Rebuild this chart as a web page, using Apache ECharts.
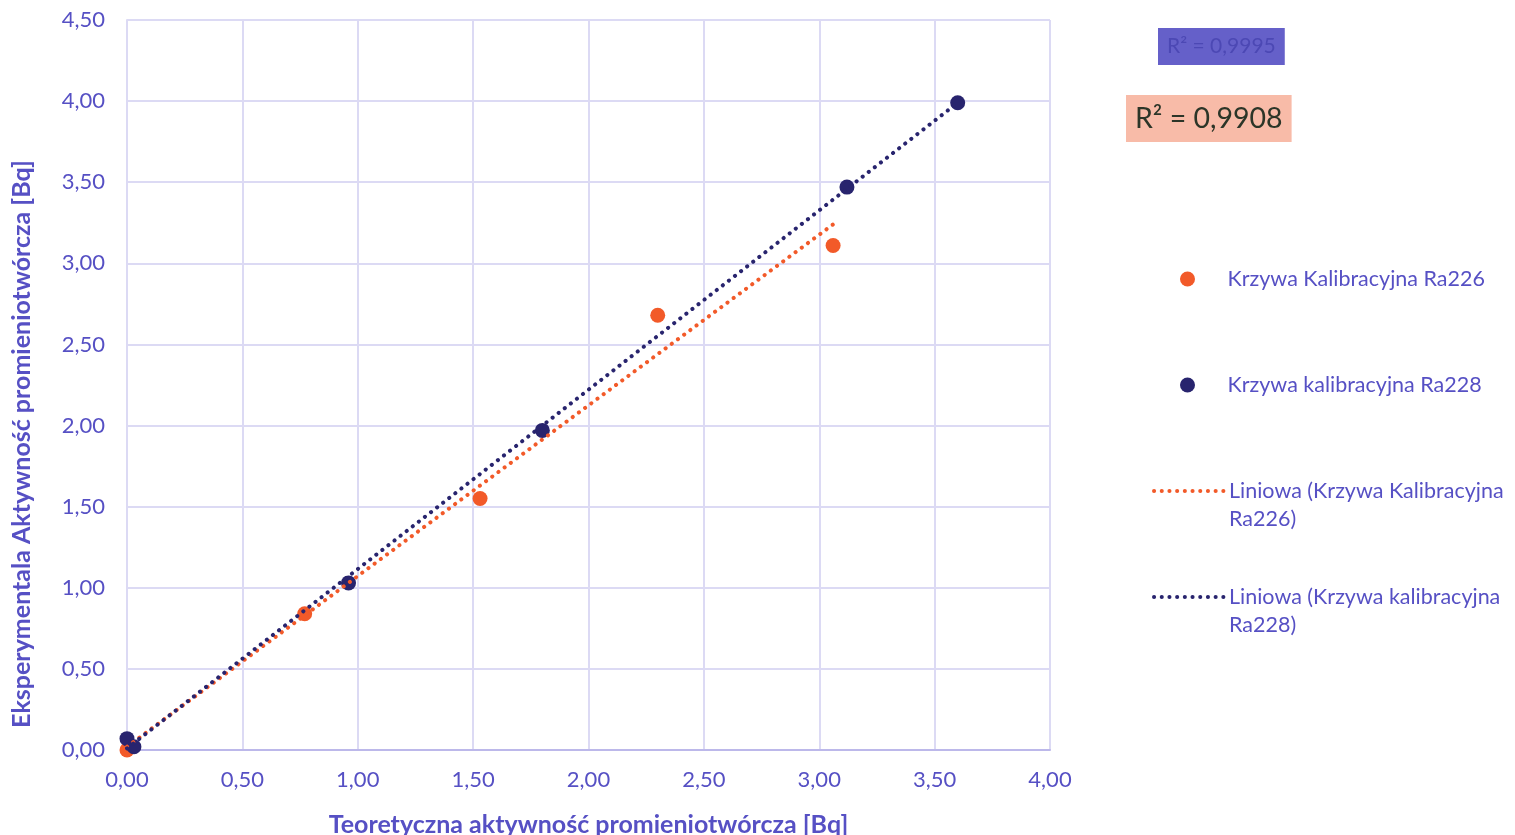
<!DOCTYPE html>
<html><head><meta charset="utf-8">
<script src="https://cdn.jsdelivr.net/npm/echarts@6/dist/echarts.min.js"></script>
<style>html,body{margin:0;padding:0;background:#fff}#c{width:1515px;height:835px}</style>
</head><body><div id="c"></div>
<script>
// Data
const ra226X = [0.00, 0.77, 1.53, 2.30, 3.06];
const ra226Y = [0.00, 0.84, 1.55, 2.68, 3.11];
const ra228X = [0.00, 0.03, 0.96, 1.80, 3.12, 3.60];
const ra228Y = [0.07, 0.02, 1.03, 1.97, 3.47, 3.99];
// Linear trendline endpoints (Excel "Liniowa")
const trend226X = [0.00, 3.06];
const trend226Y = [0.02, 3.24];
const trend228X = [0.00, 3.60];
const trend228Y = [0.01, 3.99];
const r2Labels = ['R² = 0,9995', 'R² = 0,9908'];
const seriesNames = ['Krzywa Kalibracyjna Ra226', 'Krzywa kalibracyjna Ra228',
  'Liniowa (Krzywa Kalibracyjna Ra226)', 'Liniowa (Krzywa kalibracyjna Ra228)'];
const xTitle = 'Teoretyczna aktywność promieniotwórcza [Bq]';
const yTitle = 'Eksperymentala Aktywność promieniotwórcza [Bq]';

const pair = (xs, ys) => xs.map((x, i) => [x, ys[i]]);
const FONT = 'Lato';
const TXT = '#5650c4';
const ORANGE = '#f25a29';
const NAVY = '#28246e';
const fmt = v => v.toFixed(2).replace('.', ',');

const chart = echarts.init(document.getElementById('c'), null, {renderer: 'canvas'});
const legendBase = {
  orient: 'vertical', itemHeight: 15, itemGap: 0, padding: 0,
  textStyle: {color: TXT, fontFamily: FONT, fontSize: 21.5, lineHeight: 28, padding: [0,0,0,0]},
  selectedMode: false
};
const dotLegend = {width: 4, type: [0.1, 7.6], cap: 'round'};
chart.setOption({
  animation: false,
  backgroundColor: '#fff',
  textStyle: {fontFamily: FONT},
  title: [
    {text: r2Labels[0], left: 1158, top: 28, backgroundColor: '#6560c9', padding: [8, 9, 8, 9],
     textStyle: {color: '#4c48b4', fontFamily: FONT, fontSize: 21, fontWeight: 'normal', lineHeight: 21}},
    {text: r2Labels[1], left: 1126, top: 95, backgroundColor: '#f8bba8', padding: [9, 9, 9, 9],
     textStyle: {color: '#2c3528', fontFamily: FONT, fontSize: 28.5, fontWeight: 'normal', lineHeight: 29}}
  ],
  legend: [
    Object.assign({}, legendBase, {left: 1180, top: 265, itemWidth: 70, data: [seriesNames[0]]}),
    Object.assign({}, legendBase, {left: 1180, top: 371, itemWidth: 70, data: [seriesNames[1]]}),
    Object.assign({}, legendBase, {left: 1152, top: 449, itemWidth: 70, data: [seriesNames[2]],
      itemStyle: {opacity: 0}, lineStyle: dotLegend,
      formatter: () => '\nLiniowa (Krzywa Kalibracyjna\nRa226)'}),
    Object.assign({}, legendBase, {left: 1152, top: 555, itemWidth: 70, data: [seriesNames[3]],
      itemStyle: {opacity: 0}, lineStyle: dotLegend,
      formatter: () => '\nLiniowa (Krzywa kalibracyjna\nRa228)'})
  ],
  grid: {left: 127, right: 465, top: 20, bottom: 85, containLabel: false, outerBoundsMode: 'none'},
  xAxis: {
    type: 'value', min: 0, max: 4, interval: 0.5,
    name: xTitle, nameLocation: 'middle', nameGap: 62,
    nameTextStyle: {color: TXT, fontFamily: FONT, fontSize: 25, fontWeight: 'bold'},
    axisLine: {show: true, lineStyle: {color: '#bcb8ea', width: 2}},
    axisTick: {show: false},
    axisLabel: {color: TXT, fontFamily: FONT, fontSize: 22, margin: 19, formatter: fmt},
    splitLine: {show: true, lineStyle: {color: '#dcdaf4', width: 2}}
  },
  yAxis: {
    type: 'value', min: 0, max: 4.5, interval: 0.5,
    name: yTitle, nameLocation: 'middle', nameGap: 93, nameRotate: 90,
    nameTextStyle: {color: TXT, fontFamily: FONT, fontSize: 25, fontWeight: 'bold', padding: [0, 118, 0, 0]},
    axisLine: {show: true, lineStyle: {color: '#dcdaf4', width: 2}},
    axisTick: {show: false},
    axisLabel: {color: TXT, fontFamily: FONT, fontSize: 22, margin: 22, formatter: fmt},
    splitLine: {show: true, lineStyle: {color: '#dcdaf4', width: 2}}
  },
  series: [
    {name: seriesNames[0], type: 'scatter', data: pair(ra226X, ra226Y), symbol: 'circle', symbolSize: 15,
     itemStyle: {color: ORANGE, opacity: 1}, z: 2},
    {name: seriesNames[1], type: 'scatter', data: pair(ra228X, ra228Y), symbol: 'circle', symbolSize: 15,
     itemStyle: {color: NAVY, opacity: 1}, z: 3},
    {name: seriesNames[2], type: 'line', data: pair(trend226X, trend226Y), showSymbol: false, symbol: 'none',
     lineStyle: {color: ORANGE, width: 4, type: [0.1, 7.6], cap: 'round'}, itemStyle: {color: ORANGE}, z: 4},
    {name: seriesNames[3], type: 'line', data: pair(trend228X, trend228Y), showSymbol: false, symbol: 'none',
     lineStyle: {color: NAVY, width: 4, type: [0.1, 7.6], cap: 'round'}, itemStyle: {color: NAVY}, z: 5}
  ]
});
</script></body></html>
